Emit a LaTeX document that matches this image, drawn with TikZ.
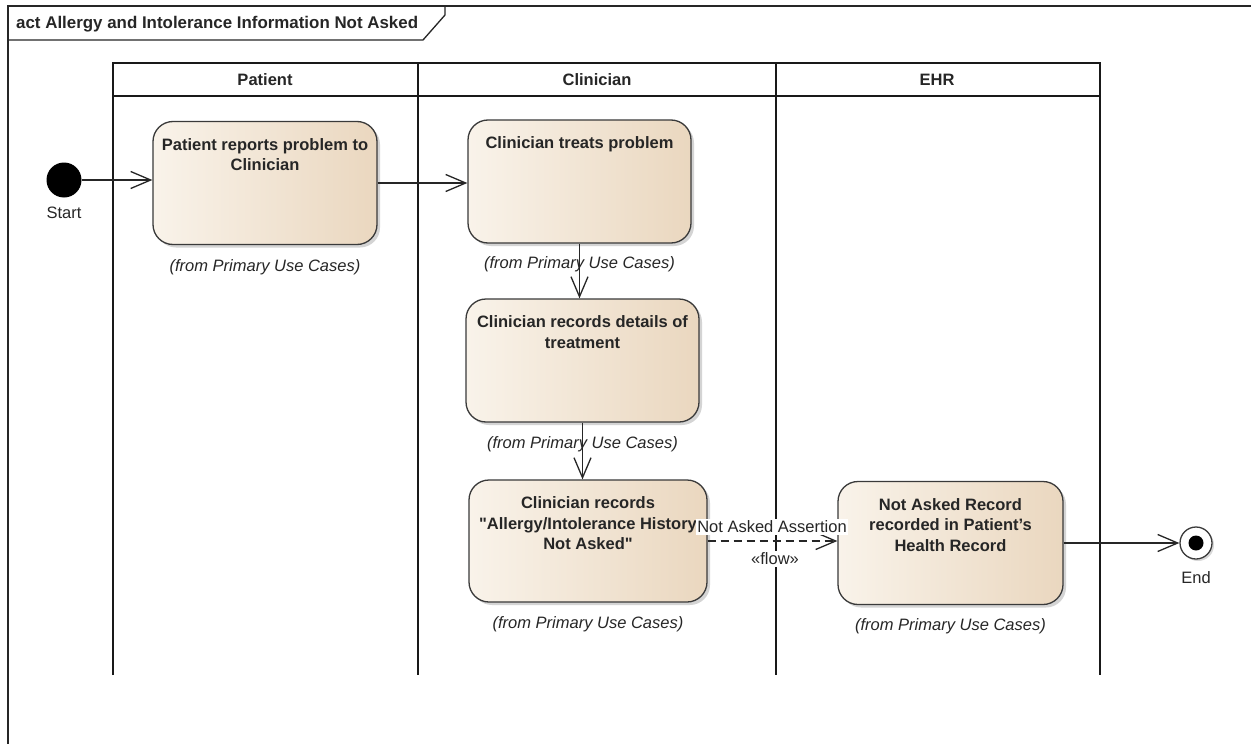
\documentclass[tikz,border=0pt]{standalone}
\usepackage{fontspec}
\setmainfont{Liberation Sans}[Ligatures=TeXOff]
\usetikzlibrary{arrows.meta,shadows,calc}
\definecolor{boxL}{HTML}{F9F3EA}
\definecolor{boxR}{HTML}{EAD7BF}
\definecolor{edgec}{HTML}{3A3A3A}
\definecolor{txt}{HTML}{262626}
\tikzset{
  actbox/.style={draw=edgec, line width=1.3pt, rounded corners=20pt,
    left color=boxL, right color=boxR, inner sep=0pt,
    drop shadow={shadow xshift=3pt, shadow yshift=-3pt, opacity=0.28, fill=black!60}},
  boxtext/.style={font=\fontsize{16.5}{20.5}\selectfont\bfseries, align=center,
    anchor=north, inner sep=0pt, text=txt},
  fromlbl/.style={font=\fontsize{16.5}{19}\selectfont\itshape, text=txt, inner sep=0pt},
  plainlbl/.style={font=\fontsize{16.5}{19}\selectfont, text=txt, inner sep=0pt},
  hdrlbl/.style={font=\fontsize{16.5}{19}\selectfont\bfseries, text=txt, inner sep=0pt},
  ctrl/.style={line width=1.3pt, draw=black!85,
    -{Straight Barb[length=20pt,width=17pt,line width=1.3pt]}},
  flowctrl/.style={ctrl, dash pattern=on 8pt off 5pt},
  lanes/.style={line width=1.7pt, draw=black!90},
  flowlbl/.style={font=\fontsize{16.5}{19}\selectfont, text=txt, fill=white, inner sep=1.5pt},
}
\begin{document}
\begin{tikzpicture}[x=1pt,y=-1pt]
\useasboundingbox (0,0) rectangle (1251,744);
\fill[white] (0,0) rectangle (1251,744);

% frame and title tab
\draw[line width=1.8pt, black!85] (1251,6) -- (8,6) -- (8,744);
\draw[line width=1.3pt, black!85] (8,40) -- (423,40) -- (445,15) -- (445,6);
\node[hdrlbl, anchor=west, font=\fontsize{16.9}{19}\selectfont\bfseries] (title) at (16,24)
  {act Allergy and Intolerance Information Not Asked};

% swimlanes
\draw[lanes] (113,675) -- (113,63) -- (1100,63) -- (1100,675);
\draw[lanes] (113,96) -- (1100,96);
\draw[lanes] (418,63) -- (418,675);
\draw[lanes] (776,63) -- (776,675);
\node[hdrlbl] (hP) at (265,80) {Patient};
\node[hdrlbl] (hC) at (597,80) {Clinician};
\node[hdrlbl] (hE) at (937,80) {EHR};

% initial and final
\node[circle, fill=black, minimum size=35pt, inner sep=0pt] (start) at (64,180) {};
\node[plainlbl] (startl) at (64,213) {Start};
\node[circle, draw=edgec, line width=1.3pt, fill=white, minimum size=32pt, inner sep=0pt,
  drop shadow={shadow xshift=2pt, shadow yshift=-2pt, opacity=0.25, fill=black!60}] (end) at (1196,543) {};
\fill[black] (end.center) circle (7.5pt);
\node[plainlbl] (endl) at (1196,578) {End};

% activity boxes
\node[actbox, minimum width=224pt, minimum height=123pt] (n1) at (265,183) {};
\node[actbox, minimum width=223pt, minimum height=123pt] (n2) at (579.5,181.5) {};
\node[actbox, minimum width=233pt, minimum height=123pt] (n3) at (582.5,360.5) {};
\node[actbox, minimum width=238pt, minimum height=122pt] (n4) at (588,541) {};
\node[actbox, minimum width=225pt, minimum height=123pt] (n5) at (950.5,543) {};

\node[boxtext] (t1) at ($(n1.north)+(0,17)$) {Patient reports problem to\\Clinician};
\node[boxtext] (t2) at ($(n2.north)+(0,17)$) {Clinician treats problem};
\node[boxtext] (t3) at ($(n3.north)+(0,17)$) {Clinician records details of\\treatment};
\node[boxtext] (t4) at ($(n4.north)+(0,17)$) {Clinician records\\"Allergy/Intolerance History\\Not Asked"};
\node[boxtext] (t5) at ($(n5.north)+(0,17)$) {Not Asked Record\\recorded in Patient’s\\Health Record};

% from labels
\node[fromlbl] (f1) at ($(n1.south)+(0,22)$) {(from Primary Use Cases)};
\node[fromlbl] (f2) at ($(n2.south)+(0,21)$) {(from Primary Use Cases)};
\node[fromlbl] (f3) at ($(n3.south)+(0,22)$) {(from Primary Use Cases)};
\node[fromlbl] (f4) at ($(n4.south)+(0,22)$) {(from Primary Use Cases)};
\node[fromlbl] (f5) at ($(n5.south)+(0,21)$) {(from Primary Use Cases)};

% connectors
\draw[ctrl] (start) -- (start -| n1.west);
\draw[ctrl] (n1.east) -- (n1.east -| n2.west);
\draw[ctrl] (n2.south) -- (n2.south |- n3.north);
\draw[ctrl] (n3.south) -- (n3.south |- n4.north);
\draw[flowctrl] (n4.east) -- (n4.east -| n5.west);
\draw[ctrl] (n5.east) -- (n5.east -| end.west);

% flow labels
\node[flowlbl] (fa) at (772,527) {Not Asked Assertion};
\node[flowlbl] (ff) at (775,559) {«flow»};
\end{tikzpicture}
\end{document}
